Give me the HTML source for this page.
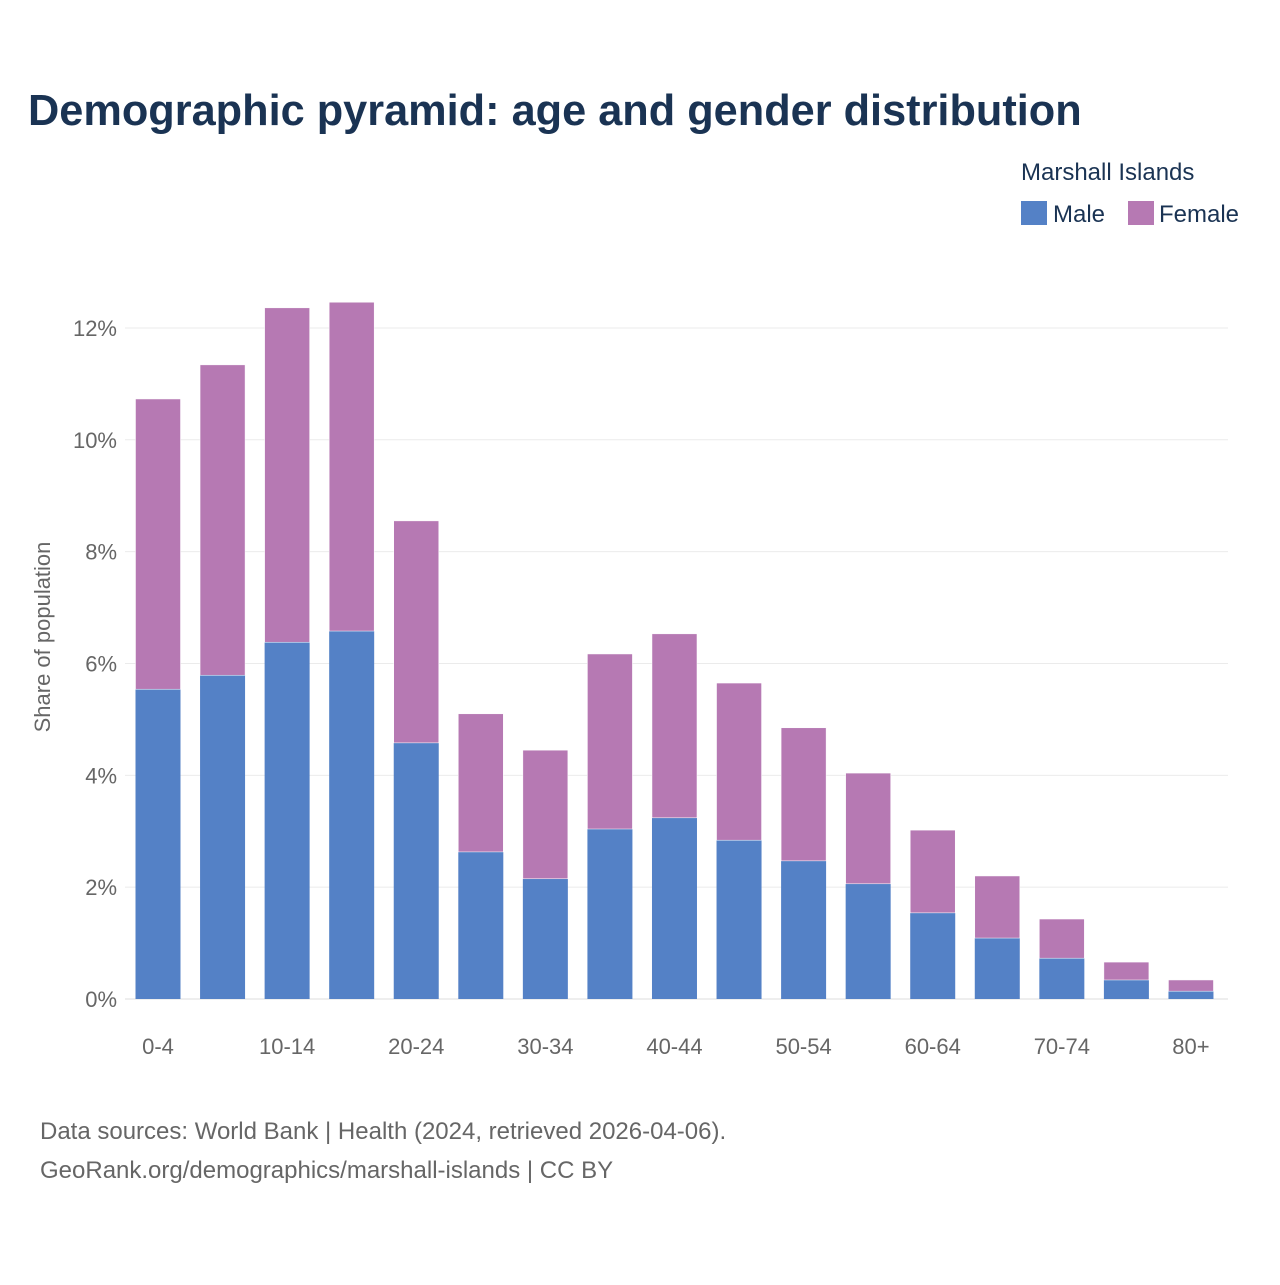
<!DOCTYPE html>
<html><head><meta charset="utf-8">
<style>
body{margin:0;background:#fff;font-family:"Liberation Sans",sans-serif;}
svg text{font-family:"Liberation Sans",sans-serif;}
</style></head>
<body>
<svg id="chart" width="1280" height="1280" viewBox="0 0 1280 1280">
<text x="28" y="125" font-size="43.3" font-weight="bold" fill="#1a3353">Demographic pyramid: age and gender distribution</text>
<text x="1021" y="180" font-size="24" fill="#1a3353">Marshall Islands</text>
<rect x="1021" y="201" width="26" height="24" fill="#5481c6"/>
<text x="1053" y="222" font-size="24" fill="#1a3353">Male</text>
<rect x="1128" y="201" width="26" height="24" fill="#b679b3"/>
<text x="1159" y="222" font-size="24" fill="#1a3353">Female</text>
<g id="grid"></g><g id="bars"></g><g id="xlabels"></g>
<text transform="translate(50,637) rotate(-90)" text-anchor="middle" font-size="22" fill="#666">Share of population</text>
<text x="40" y="1139" font-size="24" fill="#666">Data sources: World Bank | Health (2024, retrieved 2026-04-06).</text>
<text x="40" y="1178" font-size="24" fill="#666">GeoRank.org/demographics/marshall-islands | CC BY</text>
</svg>
<script>
const categories=["0-4","5-9","10-14","15-19","20-24","25-29","30-34","35-39","40-44","45-49","50-54","55-59","60-64","65-69","70-74","75-79","80+"];
const male=[5.54,5.79,6.38,6.58,4.58,2.63,2.15,3.04,3.24,2.84,2.47,2.06,1.54,1.09,0.73,0.34,0.14];
const female=[5.19,5.55,5.98,5.88,3.97,2.47,2.30,3.13,3.29,2.81,2.38,1.98,1.48,1.11,0.70,0.32,0.20];
const yTicks=[0,2,4,6,8,10,12];
const ns="http://www.w3.org/2000/svg";
const y0=999,pxPer=55.92,x0=158,step=64.56,bw=45;
const y=v=>y0-v*pxPer;
const x=i=>x0+i*step;
const grid=document.getElementById('grid'),bars=document.getElementById('bars'),xl=document.getElementById('xlabels');
function mk(tag,attrs){const e=document.createElementNS(ns,tag);for(const k in attrs)e.setAttribute(k,attrs[k]);return e;}
yTicks.forEach(t=>{
  const l=mk('line',{x1:125,x2:1228,y1:y(t),y2:y(t),stroke:t===0?'#ddd':'#ebebeb','stroke-width':1});
  
  
  grid.appendChild(l);
  const tx=mk('text',{x:117,y:y(t)+8,'text-anchor':'end','font-size':22,fill:'#666'});
  tx.textContent=t+'%';
  
  
  grid.appendChild(tx);
});
categories.forEach((c,i)=>{
  const m=mk('rect',{x:x(i)-bw/2,y:y(male[i]),width:bw,height:male[i]*pxPer,fill:'#5481c6'});
  
  
  bars.appendChild(m);
  const tot=male[i]+female[i];
  const f=mk('rect',{x:x(i)-bw/2,y:y(tot),width:bw,height:female[i]*pxPer,fill:'#b679b3',stroke:'#fff','stroke-width':0.5});
  
  
  bars.appendChild(f);
  if(i%2===0){
    const t=mk('text',{x:x(i),y:1054,'text-anchor':'middle','font-size':22,fill:'#666'});
    t.textContent=c;
    
    
    xl.appendChild(t);
  }
});
</script>
</body></html>
